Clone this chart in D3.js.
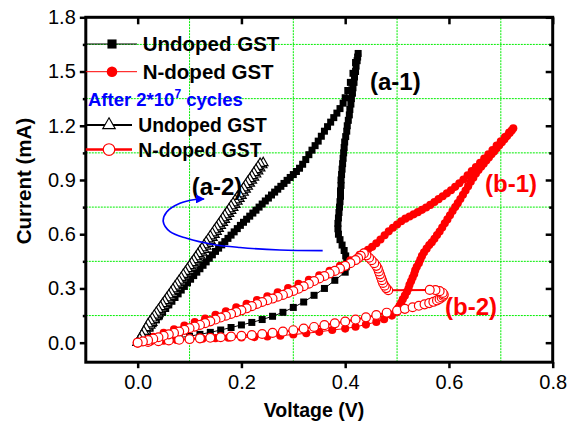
<!DOCTYPE html>
<html><head><meta charset="utf-8">
<script src="https://cdn.jsdelivr.net/npm/d3@7"></script>
<style>
html,body{margin:0;padding:0;background:#fff;}
svg{display:block;font-family:Arial,"Liberation Sans",sans-serif;}
</style></head><body>
<svg id="chart" width="575" height="427"></svg>
<script>
// ---- Axis settings ----
const xDomain = [-0.1, 0.8];
const yDomain = [-0.108, 1.8];
const xTicks = [0, 0.2, 0.4, 0.6, 0.8];
const yTicks = [0, 0.3, 0.6, 0.9, 1.2, 1.5, 1.8];
const xGrid = [0.1, 0.3, 0.5, 0.7];
const yGrid = [0.15, 0.45, 0.75, 1.05, 1.35, 1.65];

// ---- Undoped GST, fresh cell: [V, mA] ----
const a1Rise = [[0,0],[0.02,0.006],[0.04,0.013],[0.06,0.02],[0.08,0.028],[0.10,0.036],[0.12,0.046],[0.14,0.057],[0.16,0.07],[0.18,0.084],[0.20,0.098],[0.22,0.112],[0.24,0.128],[0.26,0.146],[0.28,0.168],[0.30,0.195],[0.32,0.225],[0.34,0.262],[0.36,0.30],[0.38,0.345],[0.40,0.39]];
const a1Switch = [[0.402,0.42],[0.403,0.45],[0.401,0.48],[0.398,0.51],[0.394,0.54],[0.390,0.57],[0.387,0.60],[0.386,0.63],[0.386,0.66],[0.387,0.69],[0.388,0.72],[0.389,0.75],[0.390,0.78],[0.391,0.81],[0.391,0.84],[0.392,0.87],[0.392,0.90],[0.393,0.93],[0.394,0.96],[0.395,0.99],[0.396,1.02],[0.397,1.05],[0.398,1.08],[0.399,1.11],[0.401,1.14],[0.403,1.17],[0.404,1.20],[0.406,1.23],[0.408,1.26],[0.409,1.29],[0.411,1.32],[0.412,1.35],[0.414,1.38],[0.415,1.41],[0.417,1.44],[0.418,1.47],[0.420,1.50],[0.421,1.53],[0.423,1.56],[0.424,1.58],[0.425,1.60]];
const a1Return = [[0.42,1.55],[0.415,1.49],[0.41,1.44],[0.405,1.395],[0.40,1.355],[0.396,1.325],[0.39,1.295],[0.384,1.27],[0.378,1.245],[0.372,1.22],[0.366,1.195],[0.36,1.17],[0.354,1.142],[0.348,1.115],[0.342,1.09],[0.336,1.065],[0.330,1.04],[0.324,1.013],[0.318,0.987],[0.312,0.965],[0.306,0.947],[0.30,0.93],[0.294,0.914],[0.288,0.898],[0.282,0.881],[0.276,0.865],[0.270,0.849],[0.264,0.833],[0.258,0.817],[0.252,0.80],[0.246,0.784],[0.240,0.767],[0.234,0.75],[0.228,0.733],[0.222,0.717],[0.216,0.70],[0.210,0.683],[0.204,0.666],[0.198,0.649],[0.192,0.631],[0.186,0.613],[0.180,0.595],[0.174,0.577],[0.168,0.559],[0.162,0.541],[0.156,0.523],[0.150,0.505],[0.144,0.486],[0.138,0.467],[0.132,0.447],[0.126,0.428],[0.12,0.409],[0.114,0.39],[0.108,0.371],[0.102,0.351],[0.096,0.331],[0.09,0.311],[0.084,0.291],[0.078,0.27],[0.072,0.25],[0.066,0.229],[0.06,0.209],[0.054,0.189],[0.048,0.168],[0.042,0.147],[0.036,0.126],[0.030,0.105],[0.024,0.084],[0.018,0.063],[0.012,0.042],[0.006,0.021],[0,0]];

// ---- N-doped GST, fresh cell ----
const b1Rise = [[0,0],[0.025,0.006],[0.05,0.011],[0.075,0.015],[0.10,0.019],[0.125,0.022],[0.15,0.025],[0.175,0.027],[0.20,0.029],[0.225,0.031],[0.25,0.034],[0.275,0.039],[0.30,0.045],[0.325,0.052],[0.35,0.06],[0.375,0.07],[0.40,0.078],[0.42,0.088],[0.44,0.10],[0.46,0.115],[0.475,0.13],[0.49,0.15],[0.50,0.17]];
const b1Switch = [[0.502,0.19],[0.505,0.205],[0.508,0.22],[0.511,0.24],[0.515,0.26],[0.519,0.282],[0.522,0.30],[0.524,0.32],[0.527,0.34],[0.530,0.36],[0.533,0.38],[0.535,0.40],[0.538,0.42],[0.542,0.44],[0.545,0.46],[0.548,0.48],[0.552,0.50],[0.557,0.52],[0.562,0.54],[0.567,0.555],[0.572,0.575],[0.577,0.595],[0.582,0.615],[0.587,0.637],[0.592,0.66],[0.597,0.682],[0.602,0.705],[0.607,0.728],[0.612,0.75],[0.617,0.772],[0.622,0.795],[0.627,0.818],[0.632,0.842],[0.637,0.866],[0.642,0.89],[0.647,0.913],[0.652,0.936],[0.657,0.955],[0.662,0.973],[0.667,0.99],[0.672,1.008],[0.677,1.025],[0.682,1.042],[0.687,1.058],[0.692,1.075],[0.697,1.092],[0.702,1.109],[0.707,1.126],[0.712,1.143],[0.717,1.16],[0.721,1.174],[0.724,1.186]];
const b1Return = [[0.716,1.162],[0.708,1.138],[0.700,1.114],[0.692,1.09],[0.684,1.066],[0.676,1.042],[0.668,1.018],[0.660,0.995],[0.652,0.972],[0.644,0.95],[0.636,0.926],[0.628,0.903],[0.620,0.882],[0.612,0.862],[0.604,0.843],[0.596,0.826],[0.588,0.81],[0.580,0.794],[0.572,0.778],[0.564,0.762],[0.556,0.748],[0.548,0.735],[0.540,0.722],[0.532,0.71],[0.524,0.698],[0.516,0.686],[0.508,0.672],[0.500,0.654],[0.492,0.636],[0.484,0.616],[0.476,0.594],[0.468,0.571],[0.460,0.55],[0.452,0.53],[0.444,0.514],[0.436,0.499],[0.428,0.486],[0.41,0.455],[0.39,0.425],[0.37,0.397],[0.35,0.372],[0.33,0.348],[0.31,0.325],[0.29,0.302],[0.27,0.279],[0.25,0.257],[0.23,0.236],[0.21,0.215],[0.19,0.195],[0.17,0.174],[0.15,0.154],[0.13,0.134],[0.11,0.114],[0.09,0.094],[0.07,0.074],[0.05,0.054],[0.03,0.033],[0.01,0.012],[0,0]];

// ---- Undoped GST after 2*10^7 cycles ----
const a2Up = [[0,0],[0.004,0.016],[0.008,0.032],[0.012,0.048],[0.016,0.063],[0.02,0.079],[0.024,0.095],[0.028,0.111],[0.032,0.127],[0.036,0.143],[0.04,0.159],[0.044,0.175],[0.048,0.191],[0.052,0.207],[0.056,0.223],[0.06,0.239],[0.064,0.255],[0.068,0.271],[0.072,0.288],[0.076,0.304],[0.08,0.32],[0.084,0.336],[0.088,0.352],[0.092,0.369],[0.096,0.385],[0.10,0.401],[0.104,0.417],[0.108,0.434],[0.112,0.45],[0.116,0.466],[0.12,0.483],[0.124,0.499],[0.128,0.515],[0.132,0.532],[0.136,0.548],[0.14,0.565],[0.144,0.581],[0.148,0.598],[0.152,0.614],[0.156,0.631],[0.16,0.647],[0.164,0.664],[0.168,0.681],[0.172,0.697],[0.176,0.714],[0.18,0.73],[0.184,0.747],[0.188,0.764],[0.192,0.781],[0.196,0.797],[0.20,0.814],[0.204,0.831],[0.208,0.848],[0.212,0.864],[0.216,0.881],[0.22,0.898],[0.224,0.915],[0.228,0.932],[0.232,0.949],[0.236,0.966],[0.24,0.983],[0.242,0.995]];
const a2Down = [[0.236,0.991],[0.232,0.974],[0.228,0.957],[0.224,0.94],[0.22,0.923],[0.216,0.906],[0.212,0.89],[0.208,0.873],[0.204,0.856],[0.20,0.839],[0.196,0.822],[0.192,0.806],[0.188,0.789],[0.184,0.772],[0.18,0.756],[0.176,0.739],[0.172,0.722],[0.168,0.706],[0.164,0.689],[0.16,0.672],[0.156,0.656],[0.152,0.639],[0.148,0.623],[0.144,0.606],[0.14,0.59],[0.136,0.573],[0.132,0.557],[0.128,0.54],[0.124,0.524],[0.12,0.507],[0.116,0.491],[0.112,0.474],[0.108,0.458],[0.104,0.442],[0.10,0.425],[0.096,0.409],[0.092,0.393],[0.088,0.377],[0.084,0.36],[0.08,0.344],[0.076,0.328],[0.072,0.312],[0.068,0.296],[0.064,0.279],[0.06,0.263],[0.056,0.247],[0.052,0.231],[0.048,0.215],[0.044,0.199],[0.04,0.183],[0.036,0.167],[0.032,0.151],[0.028,0.135],[0.024,0.119],[0.02,0.103],[0.016,0.082],[0.012,0.062],[0.008,0.042],[0.004,0.021],[0,0]];

// ---- N-doped GST after 2*10^7 cycles ----
const b2Rise = [[0,0],[0.02,0.004],[0.04,0.008],[0.06,0.012],[0.08,0.016],[0.10,0.02],[0.12,0.024],[0.14,0.027],[0.16,0.03],[0.18,0.034],[0.20,0.038],[0.22,0.042],[0.24,0.048],[0.26,0.054],[0.28,0.061],[0.30,0.069],[0.32,0.078],[0.34,0.087],[0.36,0.097],[0.38,0.107],[0.40,0.117],[0.42,0.128],[0.44,0.14],[0.46,0.153],[0.48,0.166],[0.50,0.178],[0.515,0.187],[0.53,0.196],[0.542,0.204],[0.553,0.212],[0.562,0.219],[0.570,0.226],[0.577,0.234],[0.582,0.242],[0.586,0.25],[0.589,0.258],[0.59,0.266],[0.588,0.275],[0.582,0.285],[0.574,0.291],[0.563,0.292]];
const b2Snap = [[0.483,0.29],[0.479,0.302],[0.476,0.315],[0.473,0.33],[0.471,0.346],[0.469,0.362],[0.467,0.378],[0.465,0.394],[0.463,0.41],[0.46,0.425],[0.456,0.44],[0.451,0.456],[0.446,0.47],[0.441,0.483],[0.436,0.494]];
const b2Return = [[0.43,0.48],[0.425,0.468],[0.42,0.457],[0.41,0.44],[0.40,0.425],[0.39,0.41],[0.38,0.397],[0.37,0.383],[0.36,0.369],[0.35,0.355],[0.34,0.341],[0.33,0.326],[0.32,0.312],[0.31,0.298],[0.30,0.286],[0.29,0.275],[0.28,0.264],[0.27,0.254],[0.26,0.244],[0.25,0.235],[0.24,0.225],[0.23,0.214],[0.22,0.202],[0.21,0.19],[0.20,0.179],[0.19,0.169],[0.18,0.159],[0.17,0.149],[0.16,0.139],[0.15,0.128],[0.14,0.118],[0.13,0.108],[0.12,0.098],[0.11,0.089],[0.10,0.08],[0.09,0.071],[0.08,0.062],[0.07,0.054],[0.06,0.046],[0.05,0.038],[0.04,0.03],[0.03,0.022],[0.02,0.014],[0.01,0.007],[0,0]];

// ---- Blue arrow path (V, mA) ----
const arrowPath = [[0.3566,0.5088],[0.2743,0.5127],[0.1972,0.5265],[0.1457,0.5431],[0.0945,0.5774],[0.0623,0.6139],[0.0493,0.6692],[0.0559,0.7229],[0.0815,0.7710],[0.1105,0.7920],[0.1278,0.7948]];

const svg = d3.select("#chart");
const x = d3.scaleLinear().domain(xDomain).range([85.8, 552.7]);
const y = d3.scaleLinear().domain(yDomain).range([362.2, 17.3]);
const [x0, x1] = x.range(), [y0, y1] = y.range();

// grid
const grid = svg.append("g").attr("stroke", "#00ee00").attr("stroke-width", 1).attr("stroke-dasharray", "2,1");
grid.selectAll(".gx").data(xGrid).join("line").attr("x1", d => x(d)).attr("x2", d => x(d)).attr("y1", y0).attr("y2", y1);
grid.selectAll(".gy").data(yGrid).join("line").attr("x1", x0).attr("x2", x1).attr("y1", d => y(d)).attr("y2", d => y(d));

const series = [
  {pts: a1Rise.concat(a1Switch, a1Return), color: "#000", lw: 1, sym: "square"},
  {pts: b1Rise.concat(b1Switch, b1Return), color: "#ff0000", lw: 1, sym: "dot"},
  {pts: a2Up.concat(a2Down), color: "#000", lw: 1.5, sym: "triangle"},
  {pts: b2Rise.concat(b2Snap, b2Return), color: "#ff0000", lw: 2, sym: "ring"}
];

const line = d3.line().x(d => x(d[0])).y(d => y(d[1]));
function drawMarker(g, sym, color, scale) {
  const k = scale || 1;
  if (sym === "square") {
    g.append("path").attr("d", d3.symbol(d3.symbolSquare, 49 * k * k)()).attr("fill", color);
  } else if (sym === "dot") {
    g.append("path").attr("d", d3.symbol(d3.symbolCircle, 52 * k * k)()).attr("fill", color);
  } else if (sym === "triangle") {
    g.append("path").attr("d", d3.symbol(d3.symbolTriangle, 40 * k * k)()).attr("fill", "#fff").attr("stroke", "#000").attr("stroke-width", 1.15);
  } else {
    g.append("path").attr("d", d3.symbol(d3.symbolCircle, 62 * k * k)()).attr("fill", "#fff").attr("stroke", color).attr("stroke-width", 1.2);
  }
}

const plot = svg.append("g");
series.forEach(s => {
  plot.append("path").datum(s.pts).attr("d", line).attr("fill", "none").attr("stroke", s.color).attr("stroke-width", s.lw);
  plot.append("g").selectAll("g").data(s.pts).join("g")
    .attr("transform", d => `translate(${x(d[0])},${y(d[1])})`)
    .each(function () { drawMarker(d3.select(this), s.sym, s.color); });
});

// axes
const axisStyle = g => {
  g.select(".domain").remove();
  g.selectAll(".tick line").attr("stroke", "#000").attr("stroke-width", 2.5);
  g.selectAll("text").attr("font-size", 20).attr("fill", "#000").attr("font-family", "Arial, 'Liberation Sans', sans-serif");
};
svg.append("g").attr("transform", `translate(0,${y0})`)
  .call(d3.axisBottom(x).tickValues(xTicks).tickFormat(d3.format(".1f")).tickSize(6).tickPadding(6.5)).call(axisStyle);
svg.append("g").attr("transform", `translate(${x0},0)`)
  .call(d3.axisLeft(y).tickValues(yTicks).tickFormat(d3.format(".1f")).tickSize(6).tickPadding(4)).call(axisStyle);
svg.append("g").attr("transform", `translate(${x0},0)`)
  .call(d3.axisLeft(y).tickValues(yGrid).tickFormat("").tickSize(3)).call(axisStyle);
svg.append("g").attr("transform", `translate(0,${y1})`)
  .call(d3.axisTop(x).tickValues(xTicks).tickFormat("").tickSize(-7)).call(axisStyle);
svg.append("g").attr("transform", `translate(${x1},0)`)
  .call(d3.axisRight(y).tickValues(yTicks).tickFormat("").tickSize(-7)).call(axisStyle);
svg.append("g").attr("transform", `translate(${x1},0)`)
  .call(d3.axisRight(y).tickValues(yGrid).tickFormat("").tickSize(-3.5)).call(axisStyle);

svg.append("rect").attr("x", x0).attr("y", y1).attr("width", x1 - x0).attr("height", y0 - y1)
  .attr("fill", "none").attr("stroke", "#000").attr("stroke-width", 3);

// axis titles
svg.append("text").attr("x", 314).attr("y", 417).attr("text-anchor", "middle")
  .attr("font-size", 19.5).attr("font-weight", "bold").text("Voltage (V)");
svg.append("text").attr("transform", "translate(31,181) rotate(-90)").attr("text-anchor", "middle")
  .attr("font-size", 20.5).attr("font-weight", "bold").text("Current (mA)");

// legend
const legend = [
  {label: "Undoped GST", sym: "square", color: "#000", lw: 1, y: 44, lx: 137, mx: 112, tx: 142.7, fs: 20.5},
  {label: "N-doped GST", sym: "dot", color: "#ff0000", lw: 1, y: 71.7, lx: 137, mx: 112, tx: 142.7, fs: 20.5},
  {label: "Undoped GST", sym: "triangle", color: "#000", lw: 2, y: 125, lx: 132, mx: 109, tx: 138.3, fs: 19.3},
  {label: "N-doped GST", sym: "ring", color: "#ff0000", lw: 2.7, y: 149.5, lx: 132, mx: 109, tx: 138.3, fs: 19.3}
];
const lg = svg.append("g");
legend.forEach(l => {
  lg.append("line").attr("x1", x0).attr("x2", l.lx).attr("y1", l.y).attr("y2", l.y).attr("stroke", l.color).attr("stroke-width", l.lw);
  drawMarker(lg.append("g").attr("transform", `translate(${l.mx},${l.y})`), l.sym, l.color, 1.3);
  lg.append("text").attr("x", l.tx).attr("y", l.y + 7.4).attr("font-size", l.fs).attr("font-weight", "bold").text(l.label);
});
const after = lg.append("text").attr("x", 88).attr("y", 106).attr("font-size", 18.5).attr("font-weight", "bold").attr("fill", "#0000ff");
after.append("tspan").text("After 2*10");
after.append("tspan").attr("font-size", 12).attr("dy", -8).text("7");
after.append("tspan").attr("dy", 8).text(" cycles");

// curve labels
const labels = [
  {t: "(a-1)", v: 0.4478, i: 1.3977, c: "#000"},
  {t: "(b-1)", v: 0.6695, i: 0.8334, c: "#ff0000"},
  {t: "(a-2)", v: 0.1041, i: 0.8155, c: "#000"},
  {t: "(b-2)", v: 0.5924, i: 0.1527, c: "#ff0000"}
];
svg.append("g").selectAll("text").data(labels).join("text")
  .attr("x", d => x(d.v)).attr("y", d => y(d.i))
  .attr("font-size", 24).attr("font-weight", "bold").attr("fill", d => d.c).text(d => d.t);

// blue arrow
svg.append("defs").append("marker").attr("id", "ah").attr("viewBox", "0 0 10 10").attr("refX", 9).attr("refY", 5)
  .attr("markerWidth", 9).attr("markerHeight", 9).attr("markerUnits", "userSpaceOnUse").attr("orient", "auto")
  .append("path").attr("d", "M0,0L10,5L0,10Z").attr("fill", "#0000ff");
svg.append("path").datum(arrowPath)
  .attr("d", d3.line().x(d => x(d[0])).y(d => y(d[1])).curve(d3.curveCatmullRom))
  .attr("fill", "none").attr("stroke", "#0000ff").attr("stroke-width", 1.7).attr("marker-end", "url(#ah)");
</script>
</body></html>
